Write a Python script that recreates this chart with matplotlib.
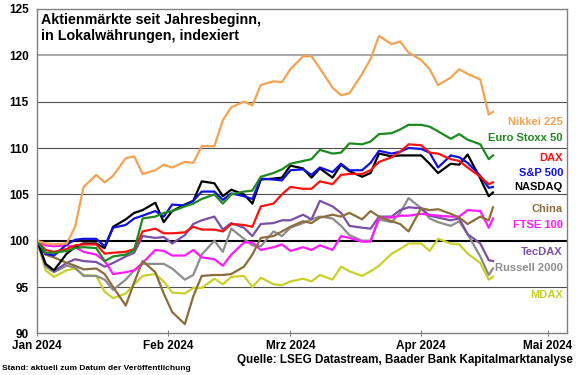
import numpy as np
import pandas as pd
import matplotlib
matplotlib.use("Agg")
import matplotlib.pyplot as plt

plt.rcParams['font.family'] = ['Liberation Sans', 'DejaVu Sans']

# Tage seit 1. Januar 2024 (Mo/Mi/Fr-Raster)
days = [0, 2, 4, 7, 9, 11, 14, 16, 18, 21, 23, 25, 28, 30, 32, 35, 37, 39, 42, 44,
        46, 49, 51, 53, 56, 58, 60, 63, 65, 67, 70, 72, 74, 77, 79, 81, 84, 86, 88, 91,
        93, 95, 98, 100, 102, 105, 107, 108]

nikkei = [100.0, 99.7, 99.6, 99.7, 101.5, 105.8, 107.1, 106.3, 107.0, 108.9, 109.1, 107.2,
          107.6, 108.2, 107.9, 108.5, 108.4, 110.2, 110.2, 113.0, 114.4, 115.0, 114.6, 116.8,
          117.2, 117.1, 118.5, 119.9, 119.9, 118.6, 116.5, 115.7, 115.9, 118.0, 119.6, 122.1,
          121.2, 121.5, 120.3, 119.5, 118.5, 116.8, 117.6, 118.5, 118.0, 117.4, 113.6, 113.9]
eurostoxx = [100.0, 98.7, 98.7, 98.9, 99.2, 99.3, 99.2, 97.8, 98.3, 98.5, 99.0, 102.4,
             102.6, 103.0, 103.2, 103.7, 104.0, 104.5, 105.0, 104.0, 105.0, 105.3, 105.4, 106.9,
             107.3, 107.7, 108.3, 108.6, 108.8, 109.8, 109.4, 109.5, 110.5, 110.4, 110.7, 111.5,
             111.6, 112.0, 112.5, 112.5, 112.3, 111.8, 111.0, 111.5, 110.9, 110.4, 108.8, 109.2]
dax = [100.0, 99.0, 98.8, 99.1, 99.5, 99.6, 99.6, 98.6, 98.7, 98.8, 99.1, 101.0,
       101.3, 100.8, 100.8, 100.9, 101.5, 101.2, 101.2, 101.0, 101.8, 101.7, 101.5, 103.7,
       104.0, 105.0, 105.8, 105.6, 105.6, 106.4, 106.1, 107.1, 107.2, 107.2, 107.6, 108.5,
       109.0, 109.6, 110.4, 110.3, 109.5, 109.4, 108.8, 108.6, 107.9, 106.9, 106.1, 106.3]
sp500 = [100.0, 98.6, 98.4, 99.6, 100.1, 100.2, 100.2, 99.4, 101.4, 101.7, 102.4, 102.7,
         103.2, 102.6, 103.9, 103.8, 104.3, 105.3, 105.3, 104.4, 105.1, 104.8, 104.5, 106.7,
         106.6, 106.5, 107.6, 107.7, 107.1, 107.9, 107.4, 108.3, 107.6, 107.6, 108.4, 109.7,
         109.4, 109.6, 110.0, 109.9, 109.5, 107.9, 109.2, 109.0, 108.4, 107.0, 105.7, 105.8]
nasdaq = [100.0, 97.5, 96.8, 98.6, 99.3, 99.7, 99.7, 99.2, 101.5, 102.3, 103.0, 103.3,
          104.1, 102.0, 103.2, 103.9, 104.3, 106.4, 106.2, 104.8, 105.5, 105.0, 104.0, 106.6,
          106.7, 106.8, 108.1, 107.8, 106.8, 107.8, 106.8, 108.2, 107.5, 106.9, 107.3, 109.4,
          109.1, 109.2, 109.2, 109.2, 108.3, 107.3, 108.3, 108.2, 109.3, 106.7, 104.8, 105.2]
china = [100.0, 98.5, 98.2, 97.6, 97.3, 96.9, 97.0, 96.4, 95.0, 93.0, 95.5, 97.8,
         96.6, 94.3, 92.3, 91.0, 94.0, 96.2, 96.3, 96.3, 96.4, 97.2, 98.5, 100.3,
         100.5, 101.0, 101.5, 102.1, 101.9, 102.5, 102.8, 102.6, 103.0, 102.3, 103.2, 102.6,
         102.1, 101.8, 101.0, 103.5, 103.3, 103.4, 102.9, 102.5, 101.8, 102.6, 102.2, 103.6]
ftse = [100.0, 99.5, 99.4, 99.5, 99.3, 98.8, 98.5, 97.8, 96.4, 96.6, 96.8, 97.6,
        99.0, 98.9, 98.4, 98.4, 99.0, 98.2, 98.0, 97.3, 98.5, 99.8, 99.8, 99.0,
        99.3, 99.6, 98.9, 99.3, 99.0, 99.5, 99.0, 100.5, 100.3, 99.9, 99.9, 102.5,
        102.5, 102.7, 102.7, 102.9, 102.8, 102.7, 102.6, 102.6, 103.3, 103.2, 101.4, 102.4]
tecdax = [100.0, 97.5, 96.7, 97.6, 98.0, 97.8, 97.7, 97.2, 97.6, 98.3, 98.7, 100.5,
          100.3, 100.4, 99.7, 100.6, 101.8, 102.2, 102.6, 101.2, 101.9, 101.4, 100.5, 101.8,
          101.9, 102.2, 102.2, 102.8, 102.3, 104.3, 103.7, 103.0, 101.6, 101.4, 101.3, 102.6,
          102.6, 103.3, 103.6, 103.5, 102.7, 102.5, 102.2, 102.4, 100.7, 99.7, 97.9, 97.8]
russell = [100.0, 97.2, 96.6, 97.3, 97.1, 96.2, 96.2, 95.8, 94.7, 95.8, 96.8, 97.5,
           97.5, 97.5, 97.0, 95.8, 96.3, 98.5, 100.0, 98.8, 101.3, 100.2, 99.5, 99.4,
           101.0, 100.5, 101.4, 101.9, 102.3, 102.6, 102.4, 101.6, 100.6, 100.0, 100.0, 102.3,
           102.0, 103.0, 104.6, 103.5, 102.4, 102.0, 101.6, 102.1, 100.7, 98.3, 96.3, 97.0]
mdax = [100.0, 96.8, 96.1, 96.8, 97.0, 96.3, 96.2, 94.5, 93.8, 94.3, 95.3, 96.2,
        96.4, 95.6, 94.4, 94.3, 94.9, 94.9, 95.9, 95.3, 96.1, 96.2, 95.0, 96.0,
        95.3, 95.2, 95.6, 95.9, 95.6, 96.3, 95.8, 97.2, 96.7, 96.2, 96.7, 97.3,
        98.6, 99.1, 99.7, 99.7, 98.9, 100.2, 99.7, 99.6, 98.6, 97.6, 95.8, 96.1]

names = ['MDAX', 'Russell 2000', 'TecDAX', 'FTSE 100', 'China', 'NASDAQ',
         'S&P 500', 'DAX', 'Euro Stoxx 50', 'Nikkei 225']
series = [mdax, russell, tecdax, ftse, china, nasdaq, sp500, dax, eurostoxx, nikkei]
colors = ['#c8d02a', '#8c8c8c', '#7a4fa6', '#ff1aff', '#8c6d3c', '#000000',
          '#1010e0', '#ff1010', '#1e8a1e', '#f4a352']
label_y = [94.1, 97.1, 98.8, 101.7, 103.4, 105.8, 107.3, 108.9, 111.06, 112.8]

start = pd.Timestamp('2024-01-01')
dates = start + pd.to_timedelta(days, unit='D')

fig = plt.figure(figsize=(5.8, 3.75), dpi=100)
ax = fig.add_axes([0.064, 0.111, 0.914, 0.865])

# Gitterlinien
for v in [95, 105, 110, 115]:
    ax.axhline(v, color='#505050', lw=0.8, zorder=1)
ax.axhline(120, color='#a0a0a0', lw=1.3, zorder=1)
ax.axhline(100, color='black', lw=1.5, zorder=1.5)

for vals, col in zip(series, colors):
    ax.plot(dates, vals, color=col, lw=1.6, zorder=2)

for name, col, yv in zip(names, colors, label_y):
    ax.text(0.992, yv, name, color=col, fontsize=8, fontweight='bold',
            ha='right', va='center', transform=ax.get_yaxis_transform())

ax.set_ylim(90, 125)
ax.set_yticks([90, 95, 100, 105, 110, 115, 120, 125])
ax.set_xlim(start, start + pd.Timedelta(days=125.6))
month_ticks = pd.to_datetime(['2024-01-01', '2024-02-01', '2024-03-01', '2024-04-01', '2024-05-01'])
ax.set_xticks(month_ticks)
ax.set_xticklabels(['Jan 2024', 'Feb 2024', 'Mrz 2024', 'Apr 2024', 'Mai 2024'])

for s in ax.spines.values():
    s.set_color('#808080')
    s.set_linewidth(1.0)
ax.tick_params(axis='y', length=0, pad=6, labelsize=8.5)
ax.tick_params(axis='x', length=4, direction='inout', color='#808080', pad=3, labelsize=8.5)
for lab in ax.get_xticklabels() + ax.get_yticklabels():
    lab.set_fontweight('bold')

fig.text(0.07, 0.965, 'Aktienmärkte seit Jahresbeginn,\nin Lokalwährungen, indexiert',
         fontsize=10.3, fontweight='bold', ha='left', va='top', linespacing=1.15)
fig.text(0.988, 0.04, 'Quelle: LSEG Datastream, Baader Bank Kapitalmarktanalyse',
         fontsize=8.4, fontweight='bold', ha='right', va='center')
fig.text(0.004, 0.018, 'Stand: aktuell zum Datum der Veröffentlichung',
         fontsize=6, fontweight='bold', ha='left', va='center')

fig.savefig('out.png', dpi=100)
